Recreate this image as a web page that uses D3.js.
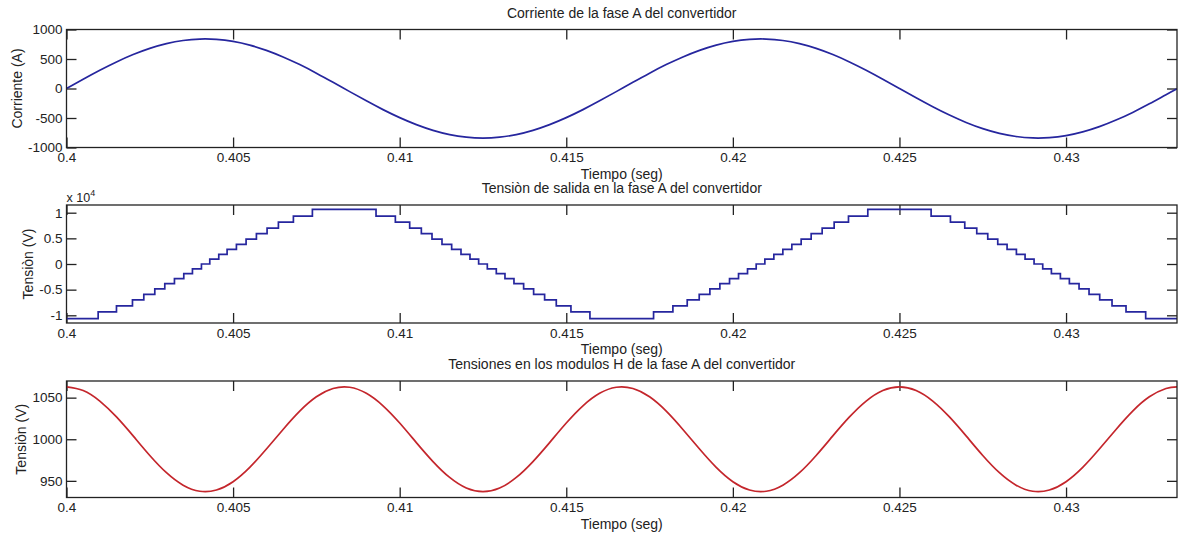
<!DOCTYPE html>
<html>
<head>
<meta charset="utf-8">
<script src="https://cdn.jsdelivr.net/npm/d3@7"></script>
<style>
body { margin: 0; background: #fff; }
svg text { font-family: "Liberation Sans", Arial, Helvetica, sans-serif; fill: #222; }
</style>
</head>
<body>
<svg id="chart" width="1178" height="533"></svg>
<script>
// Tick values of the three panels
var timeTicks = [0.4, 0.405, 0.41, 0.415, 0.42, 0.425, 0.43];
var currentTicks = [-1000, -500, 0, 500, 1000];
var voltageTicks = [-1, -0.5, 0, 0.5, 1];
var moduleTicks = [950, 1000, 1050];

// Sample times (seg) for the smooth curves
var sampleTimes = [0.4000, 0.4005, 0.4010, 0.4015, 0.4020, 0.4025, 0.4030, 0.4035, 0.4040, 0.4045,
    0.4050, 0.4055, 0.4060, 0.4065, 0.4070, 0.4075, 0.4080, 0.4085, 0.4090, 0.4095,
    0.4100, 0.4105, 0.4110, 0.4115, 0.4120, 0.4125, 0.4130, 0.4135, 0.4140, 0.4145,
    0.4150, 0.4155, 0.4160, 0.4165, 0.4170, 0.4175, 0.4180, 0.4185, 0.4190, 0.4195,
    0.4200, 0.4205, 0.4210, 0.4215, 0.4220, 0.4225, 0.4230, 0.4235, 0.4240, 0.4245,
    0.4250, 0.4255, 0.4260, 0.4265, 0.4270, 0.4275, 0.4280, 0.4285, 0.4290, 0.4295,
    0.4300, 0.4305, 0.4310, 0.4315, 0.4320, 0.4325, 0.4330, 0.43333];

// Phase A current (A)
var currentValues = [0, 157, 309, 450, 575, 680, 760, 814, 838, 833,
    799, 736, 647, 535, 405, 260, 105, -53, -209, -358,
    -494, -612, -709, -781, -825, -840, -825, -781, -709, -612,
    -494, -358, -209, -53, 105, 260, 405, 535, 647, 736,
    799, 833, 838, 814, 760, 680, 575, 450, 309, 157,
    0, -157, -309, -450, -575, -680, -760, -814, -838, -833,
    -799, -736, -647, -535, -405, -260, -105, -5];

// H-module voltage (V)
var moduleValues = [1063, 1058.6, 1045.9, 1026.8, 1004.0, 980.5, 959.8, 944.8, 937.5, 939.0,
    949.0, 966.2, 988.2, 1011.8, 1033.8, 1051.0, 1061.0, 1062.5, 1055.2, 1040.2,
    1019.5, 996.0, 973.2, 954.1, 941.4, 937, 941.4, 954.1, 973.2, 996.0,
    1019.5, 1040.2, 1055.2, 1062.5, 1061.0, 1051.0, 1033.8, 1011.8, 988.2, 966.2,
    949.0, 939.0, 937.5, 944.8, 959.8, 980.5, 1004.0, 1026.8, 1045.9, 1058.6,
    1063, 1058.6, 1045.9, 1026.8, 1004.0, 980.5, 959.8, 944.8, 937.5, 939.0,
    949.0, 966.2, 988.2, 1011.8, 1033.8, 1051.0, 1061.0, 1063];

// Staircase output voltage: switching instants (seg) and levels (x 10^4 V)
var stepTimes = [0.40095, 0.40150, 0.40198, 0.40232, 0.40265, 0.40295, 0.40324, 0.40352, 0.40378, 0.40405,
    0.40430, 0.40457, 0.40482, 0.40510, 0.40539, 0.40570, 0.40602, 0.40636, 0.40681, 0.40738,
    0.40929, 0.40987, 0.41030, 0.41065, 0.41097, 0.41127, 0.41156, 0.41184, 0.41211, 0.41237,
    0.41263, 0.41290, 0.41316, 0.41343, 0.41372, 0.41402, 0.41435, 0.41470, 0.41514, 0.41571,
    0.41762, 0.41820, 0.41863, 0.41899, 0.41931, 0.41961, 0.41990, 0.42017, 0.42044, 0.42070,
    0.42096, 0.42123, 0.42150, 0.42177, 0.42205, 0.42235, 0.42268, 0.42304, 0.42347, 0.42405,
    0.42595, 0.42653, 0.42696, 0.42732, 0.42765, 0.42795, 0.42823, 0.42851, 0.42877, 0.42904,
    0.42930, 0.42956, 0.42983, 0.43010, 0.43039, 0.43069, 0.43101, 0.43138, 0.43180, 0.43239];
var stepLevels = [-1.063,
    -0.935, -0.816, -0.700, -0.592, -0.486, -0.384, -0.285, -0.189, -0.094, 0,
    0.094, 0.189, 0.285, 0.384, 0.486, 0.592, 0.700, 0.816, 0.935, 1.063,
    0.935, 0.816, 0.700, 0.592, 0.486, 0.384, 0.285, 0.189, 0.094, 0,
    -0.094, -0.189, -0.285, -0.384, -0.486, -0.592, -0.700, -0.816, -0.935, -1.063,
    -0.935, -0.816, -0.700, -0.592, -0.486, -0.384, -0.285, -0.189, -0.094, 0,
    0.094, 0.189, 0.285, 0.384, 0.486, 0.592, 0.700, 0.816, 0.935, 1.063,
    0.935, 0.816, 0.700, 0.592, 0.486, 0.384, 0.285, 0.189, 0.094, 0,
    -0.094, -0.189, -0.285, -0.384, -0.486, -0.592, -0.700, -0.816, -0.935, -1.063];

var tStart = 0.4, tEnd = 0.43333;

var svg = d3.select("#chart");
var plotLeft = 66.5, plotRight = 1177;
var tickFont = "13.5px";   // tick labels
var labelFont = "14px";    // titles and axis labels

// MATLAB style number labels (plain hyphen, no trailing zeros)
function plainNum(d) { return String(+d.toFixed(4)); }

// Draw one boxed subplot with inner ticks on all four sides
function drawPanel(p) {
    var x = d3.scaleLinear().domain([tStart, tEnd]).range([plotLeft, plotRight]);
    var y = d3.scaleLinear().domain(p.domain).range([p.bottom, p.top]);
    var g = svg.append("g");

    g.append("clipPath").attr("id", p.id)
        .append("rect")
        .attr("x", plotLeft).attr("y", p.top)
        .attr("width", plotRight - plotLeft).attr("height", p.bottom - p.top);

    // bottom axis with labels
    var bottomAxis = g.append("g")
        .attr("transform", "translate(0," + p.bottom + ")")
        .call(d3.axisBottom(x).tickValues(timeTicks).tickFormat(plainNum)
            .tickSizeInner(-10).tickSizeOuter(0).tickPadding(5));
    // top axis, ticks only
    var topAxis = g.append("g")
        .attr("transform", "translate(0," + p.top + ")")
        .call(d3.axisTop(x).tickValues(timeTicks).tickFormat("")
            .tickSizeInner(-10).tickSizeOuter(0));
    // left axis with labels
    var leftAxis = g.append("g")
        .attr("transform", "translate(" + plotLeft + ",0)")
        .call(d3.axisLeft(y).tickValues(p.ticks).tickFormat(plainNum)
            .tickSizeInner(-10).tickSizeOuter(0).tickPadding(4));
    // right axis, ticks only
    var rightAxis = g.append("g")
        .attr("transform", "translate(" + plotRight + ",0)")
        .call(d3.axisRight(y).tickValues(p.ticks).tickFormat("")
            .tickSizeInner(-10).tickSizeOuter(0));

    [bottomAxis, topAxis, leftAxis, rightAxis].forEach(function(a) {
        a.select(".domain").remove();
        a.selectAll(".tick line").style("stroke", "#222").style("stroke-width", 1.3);
        a.selectAll("text").style("font-size", tickFont).style("fill", "#222");
    });

    // curve
    g.append("path")
        .datum(p.points)
        .attr("clip-path", "url(#" + p.id + ")")
        .attr("d", d3.line()
            .x(function(d) { return x(d[0]); })
            .y(function(d) { return y(d[1]); })
            .curve(p.curve))
        .style("fill", "none")
        .style("stroke", p.color)
        .style("stroke-width", 1.7);

    // box
    g.append("rect")
        .attr("x", plotLeft).attr("y", p.top)
        .attr("width", plotRight - plotLeft).attr("height", p.bottom - p.top)
        .style("fill", "none")
        .style("stroke", "#222")
        .style("stroke-width", 1.3);

    // title
    g.append("text")
        .attr("x", (plotLeft + plotRight) / 2)
        .attr("y", p.top - 12)
        .attr("text-anchor", "middle")
        .style("font-size", labelFont)
        .text(p.title);

    // x label
    g.append("text")
        .attr("x", (plotLeft + plotRight) / 2)
        .attr("y", p.bottom + 31)
        .attr("text-anchor", "middle")
        .style("font-size", labelFont)
        .text("Tiempo (seg)");

    // y label
    g.append("text")
        .attr("transform", "translate(" + p.ylabelX + "," + ((p.top + p.bottom) / 2) + ") rotate(-90)")
        .attr("text-anchor", "middle")
        .attr("dy", "0.35em")
        .style("font-size", labelFont)
        .text(p.ylabel);

    return { x: x, y: y, g: g };
}

// Panel 1: current
drawPanel({
    id: "clip1", top: 29.5, bottom: 147.5, domain: [-1000, 1000], ticks: currentTicks,
    title: "Corriente de la fase A del convertidor", ylabel: "Corriente (A)", ylabelX: 17.5,
    color: "#26269e", curve: d3.curveNatural,
    points: sampleTimes.map(function(t, i) { return [t, currentValues[i]]; })
});

// Panel 2: staircase voltage
var stairPoints = [[tStart, stepLevels[0]]];
stepTimes.forEach(function(t, i) { stairPoints.push([t, stepLevels[i + 1]]); });
stairPoints.push([tEnd, stepLevels[stepLevels.length - 1]]);

var p2 = drawPanel({
    id: "clip2", top: 205, bottom: 323, domain: [-1.15, 1.15], ticks: voltageTicks,
    title: "Tensiòn de salida en la fase A del convertidor", ylabel: "Tensiòn (V)", ylabelX: 28,
    color: "#26269e", curve: d3.curveStepAfter,
    points: stairPoints
});

// exponent label "x 10^4"
var expo = p2.g.append("text")
    .attr("x", plotLeft)
    .attr("y", 202)
    .style("font-size", "12.5px");
expo.append("tspan").text("x 10");
expo.append("tspan").attr("dy", -6).style("font-size", "9px").text("4");

// Panel 3: H-module voltage
drawPanel({
    id: "clip3", top: 381, bottom: 497.5, domain: [930, 1070], ticks: moduleTicks,
    title: "Tensiones en los modulos H de la fase A del convertidor", ylabel: "Tensiòn (V)", ylabelX: 21,
    color: "#c4262c", curve: d3.curveNatural,
    points: sampleTimes.map(function(t, i) { return [t, moduleValues[i]]; })
});
</script>
</body>
</html>
